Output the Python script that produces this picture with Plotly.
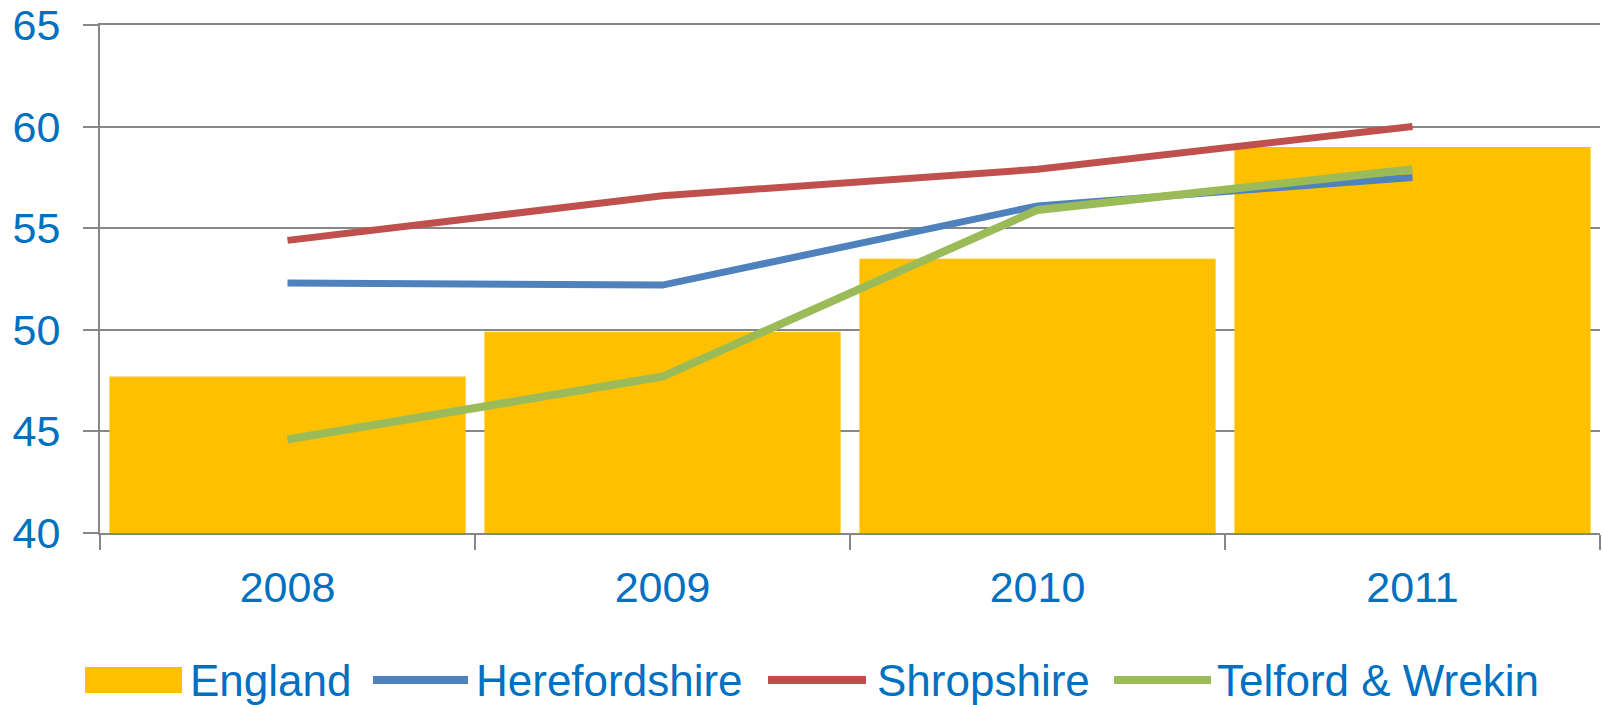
import plotly.graph_objects as go

years = ["2008", "2009", "2010", "2011"]
england = [47.7, 49.9, 53.5, 59.0]
herefordshire = [52.3, 52.2, 56.1, 57.5]
shropshire = [54.4, 56.6, 57.9, 60.0]
telford = [44.6, 47.7, 55.9, 57.9]
y_ticks = [40, 45, 50, 55, 60, 65]

legend_names = ["England", "Herefordshire", "Shropshire", "Telford & Wrekin"]

C_BAR = "#FFC000"
C_BLUE = "#4F81BD"
C_RED = "#C0504D"
C_GREEN = "#9BBB59"
C_GRID = "#878787"
C_TEXT = "#0070C0"
FONT = "Liberation Sans, Arial, sans-serif"

W, H = 1602, 705
L, R, T, B = 100, 2, 25, 172

fig = go.Figure()
fig.add_trace(go.Bar(x=years, y=england, name="England", marker=dict(color=C_BAR, line=dict(width=0))))
fig.add_trace(go.Scatter(x=years, y=herefordshire, name="Herefordshire", mode="lines",
                         line=dict(color=C_BLUE, width=7)))
fig.add_trace(go.Scatter(x=years, y=shropshire, name="Shropshire", mode="lines",
                         line=dict(color=C_RED, width=7)))
fig.add_trace(go.Scatter(x=years, y=telford, name="Telford & Wrekin", mode="lines",
                         line=dict(color=C_GREEN, width=8)))

# custom legend (large swatches as in the original)
pw = W - L - R
ph = H - T - B


def px_x(px):
    return (px - L) / pw


def px_y(py):
    return (H - B - py) / ph


leg_y = 680
items = [
    ("rect", C_BAR, 85, 182, 189),
    ("line", C_BLUE, 373, 468, 475),
    ("line", C_RED, 768, 866, 876),
    ("line", C_GREEN, 1114, 1211, 1216),
]
shapes = []
annotations = []
for (kind, col, x0, x1, tx), name in zip(items, legend_names):
    if kind == "rect":
        shapes.append(dict(type="rect", xref="paper", yref="paper",
                           x0=px_x(x0), x1=px_x(x1), y0=px_y(leg_y + 13), y1=px_y(leg_y - 13),
                           fillcolor=col, line=dict(width=0), layer="above"))
    else:
        shapes.append(dict(type="line", xref="paper", yref="paper",
                           x0=px_x(x0), x1=px_x(x1), y0=px_y(leg_y), y1=px_y(leg_y),
                           line=dict(color=col, width=8), layer="above"))
    annotations.append(dict(text=name, xref="paper", yref="paper", x=px_x(tx), y=px_y(leg_y),
                            xanchor="left", yanchor="middle", showarrow=False, borderpad=0,
                            font=dict(family=FONT, size=44, color=C_TEXT)))

fig.update_layout(
    width=W, height=H,
    margin=dict(l=L, r=R, t=T, b=B, pad=0, autoexpand=False),
    paper_bgcolor="white", plot_bgcolor="white",
    showlegend=False,
    bargap=0.05,
    shapes=shapes,
    annotations=annotations,
    font=dict(family=FONT, size=43, color=C_TEXT),
)
fig.update_xaxes(
    type="category", range=[-0.5, 3.5], automargin=False,
    showline=True, linecolor=C_GRID, linewidth=2, mirror=True,
    ticks="outside", tickson="boundaries", ticklen=15, tickwidth=2, tickcolor=C_GRID,
    showgrid=False,
    tickfont=dict(family=FONT, size=43, color=C_TEXT),
    ticklabelstandoff=15,
)
fig.update_yaxes(
    range=[40, 65], tickvals=y_ticks, automargin=False,
    showline=True, linecolor=C_GRID, linewidth=2,
    ticks="outside", ticklen=15, tickwidth=2, tickcolor=C_GRID,
    showgrid=True, gridcolor=C_GRID, gridwidth=2,
    zeroline=False,
    tickfont=dict(family=FONT, size=43, color=C_TEXT),
    ticklabelstandoff=14,
)

fig.write_html(
    "out.html",
    config={"displayModeBar": False, "staticPlot": True},
    post_script="document.body.style.margin='0';document.body.style.padding='0';"
                "document.documentElement.style.overflow='hidden';",
)
